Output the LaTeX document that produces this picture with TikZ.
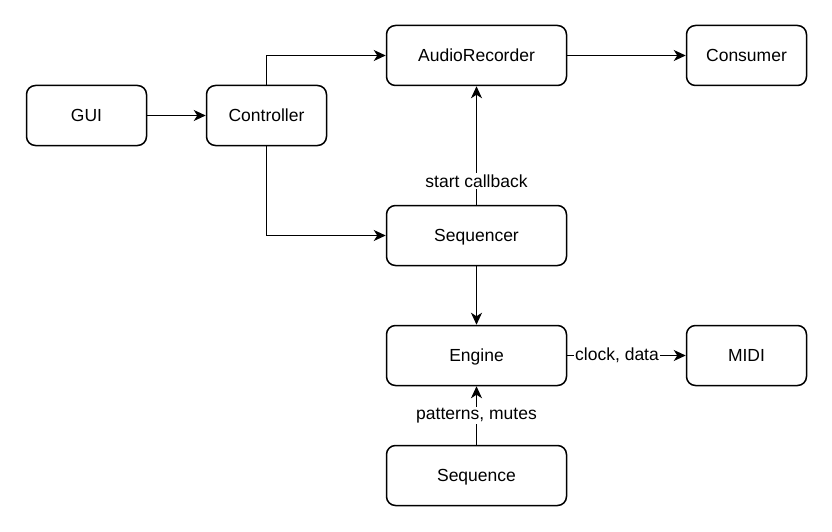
\documentclass[tikz,border=0pt]{standalone}
\usepackage{fontspec}
\setmainfont{Liberation Sans}
\usetikzlibrary{arrows.meta}
\begin{document}
\begin{tikzpicture}[x=1pt,y=-1pt,
  box/.style={draw,line width=1.5pt,rounded corners=9pt,minimum width=180pt,minimum height=60pt,inner sep=0pt,text height=12.6pt,text depth=0pt,font=\fontsize{17.5}{21}\selectfont},
  sbox/.style={box,minimum width=120pt},
  conn/.style={line width=1.5pt,-{Stealth[length=12pt,width=11pt,inset=3.5pt]}},
  lbl/.style={fill=white,inner sep=1.5pt,font=\fontsize{17.5}{21}\selectfont}]
\useasboundingbox (0,0) rectangle (832,532);
\node[sbox] (gui) at (86.5,115.5) {GUI};
\node[sbox] (ctrl) at (266.5,115.5) {Controller};
\node[box] (rec) at (476.5,55.5) {AudioRecorder};
\node[sbox] (cons) at (746.5,55.5) {Consumer};
\node[box] (seqr) at (476.5,235.5) {Sequencer};
\node[box] (eng) at (476.5,355.5) {Engine};
\node[sbox] (midi) at (746.5,355.5) {MIDI};
\node[box] (seq) at (476.5,475.5) {Sequence};
\draw[conn] (gui) -- (ctrl);
\draw[conn] (ctrl.north) |- (rec.west);
\draw[conn] (ctrl.south) |- (seqr.west);
\draw[conn] (rec) -- (cons);
\draw[conn] (seqr) -- (eng);
\draw[conn] (seqr) -- node[lbl,pos=0.2] {start callback} (rec);
\draw[conn] (eng) -- node[lbl,pos=0.42] {clock, data} (midi);
\draw[conn] (seq) -- node[lbl,pos=0.5] {patterns, mutes} (eng);
\end{tikzpicture}
\end{document}
